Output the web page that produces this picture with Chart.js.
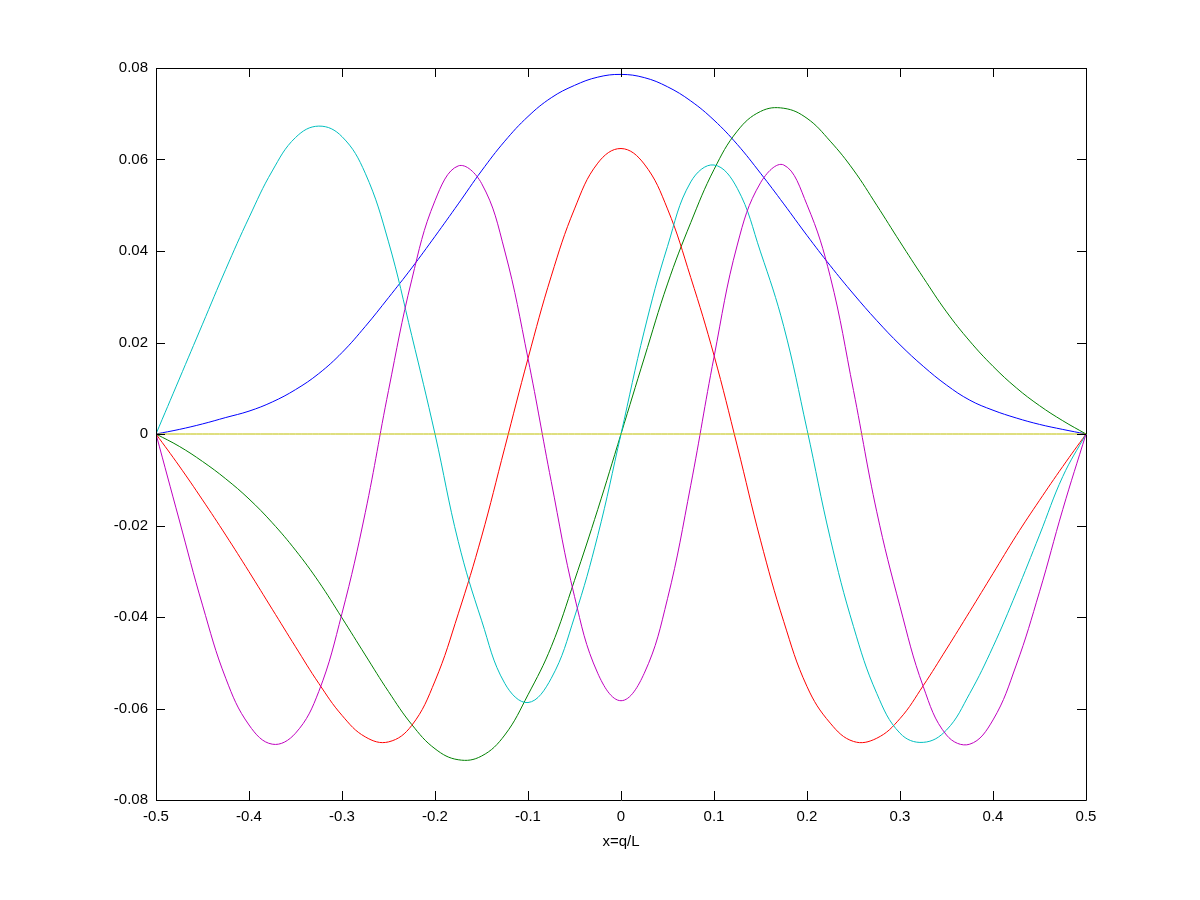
<!DOCTYPE html>
<html>
<head>
<meta charset="utf-8">
<script src="https://cdn.jsdelivr.net/npm/chart.js@4"></script>
<style>
  html, body { margin: 0; padding: 0; background: #ffffff; }
  #wrap { width: 1200px; height: 900px; }
</style>
</head>
<body>
<div id="wrap"><canvas id="plot" width="1200" height="900"></canvas></div>
<script>
// sample positions x = q/L
var xValues = [
  -0.5, -0.475, -0.45, -0.425, -0.4, -0.375, -0.35, -0.325, -0.3, -0.275,
  -0.25, -0.225, -0.2, -0.175, -0.15, -0.125, -0.1, -0.075, -0.05, -0.025,
  0, 0.025, 0.05, 0.075, 0.1, 0.125, 0.15, 0.175, 0.2, 0.225,
  0.25, 0.275, 0.3, 0.325, 0.35, 0.375, 0.4, 0.425, 0.45, 0.475, 0.5
];

var blueValues = [
  0, 0.0010, 0.0022, 0.0036, 0.0050, 0.0070, 0.0097, 0.0132, 0.0178, 0.0235,
  0.0298, 0.0363, 0.0432, 0.0503, 0.0575, 0.0640, 0.0694, 0.0735, 0.0762, 0.0780,
  0.0786, 0.0779, 0.0759, 0.0728, 0.0686, 0.0633, 0.0570, 0.0503, 0.0434, 0.0368,
  0.0306, 0.0248, 0.0195, 0.0148, 0.0107, 0.0074, 0.0052, 0.0035, 0.0021, 0.0010, 0
];

var greenValues = [
  0, -0.0027, -0.0060, -0.0098, -0.0142, -0.0194, -0.0254, -0.0323, -0.0402, -0.0483,
  -0.0563, -0.0635, -0.0688, -0.0712, -0.0704, -0.0658, -0.0570, -0.0465, -0.0320, -0.0165,
  0, 0.0166, 0.0328, 0.0462, 0.0578, 0.0662, 0.0705, 0.0712, 0.0690, 0.0640,
  0.0577, 0.0500, 0.0420, 0.0342, 0.0267, 0.0203, 0.0148, 0.0101, 0.0062, 0.0029, 0
];

var redValues = [
  0, -0.0070, -0.0144, -0.0221, -0.0301, -0.0383, -0.0465, -0.0545, -0.0615, -0.0662,
  -0.0673, -0.0637, -0.0540, -0.0393, -0.0225, -0.0030, 0.0165, 0.0345, 0.0492, 0.0592,
  0.0624, 0.0590, 0.0492, 0.0342, 0.0172, -0.0026, -0.0232, -0.0410, -0.0552, -0.0632,
  -0.0672, -0.0665, -0.0622, -0.0550, -0.0470, -0.0388, -0.0305, -0.0222, -0.0145, -0.0071, 0
];

var cyanValues = [
  0, 0.0120, 0.0240, 0.0360, 0.0473, 0.0575, 0.0648, 0.0673, 0.0650, 0.0570,
  0.0420, 0.0215, 0, -0.0235, -0.0407, -0.0545, -0.0587, -0.0534, -0.0400, -0.0222,
  0, 0.0225, 0.0410, 0.0551, 0.0588, 0.0537, 0.0398, 0.0235, 0.0010, -0.0228,
  -0.0421, -0.0567, -0.0654, -0.0674, -0.0647, -0.0567, -0.0465, -0.0347, -0.0221, -0.0093, 0
];

var magentaValues = [
  0, -0.0188, -0.0374, -0.0534, -0.0636, -0.0678, -0.0654, -0.0563, -0.0392, -0.0172,
  0.0095, 0.0337, 0.0510, 0.0586, 0.0548, 0.0400, 0.0165, -0.0104, -0.0355, -0.0523,
  -0.0583, -0.0523, -0.0360, -0.0112, 0.0168, 0.0413, 0.0549, 0.0588, 0.0501, 0.0344,
  0.0095, -0.0170, -0.0377, -0.0552, -0.0658, -0.0678, -0.0625, -0.0505, -0.0345, -0.0165, 0
];

var yellowValues = [
  0, 0, 0, 0, 0, 0, 0, 0, 0, 0,
  0, 0, 0, 0, 0, 0, 0, 0, 0, 0,
  0, 0, 0, 0, 0, 0, 0, 0, 0, 0,
  0, 0, 0, 0, 0, 0, 0, 0, 0, 0, 0
];

var xTicks = [-0.5, -0.4, -0.3, -0.2, -0.1, 0, 0.1, 0.2, 0.3, 0.4, 0.5];
var yTicks = [-0.08, -0.06, -0.04, -0.02, 0, 0.02, 0.04, 0.06, 0.08];
var xTitle = 'x=q/L';

function toPoints(ys) {
    return xValues.map(function (x, i) { return { x: x, y: ys[i] }; });
}

function lineSet(ys, colour, order) {
    return {
        data: toPoints(ys),
        borderColor: colour,
        borderWidth: 1,
        pointRadius: 0,
        fill: false,
        tension: 0.4,
        order: order
    };
}

function fmt(v) {
    return String(Number(v.toFixed(2)));
}

// box round the plot with inward ticks on all four sides
var boxTicks = {
    id: 'boxTicks',
    afterDraw: function (chart) {
        var ctx = chart.ctx;
        var a = chart.chartArea;
        var xs = chart.scales.x;
        var ys = chart.scales.y;
        var len = 9;
        ctx.save();
        ctx.strokeStyle = '#000000';
        ctx.lineWidth = 1;
        ctx.beginPath();
        ctx.rect(Math.round(a.left) + 0.5, Math.round(a.top) + 0.5,
                 Math.round(a.right - a.left), Math.round(a.bottom - a.top));
        xTicks.forEach(function (t) {
            var px = Math.round(xs.getPixelForValue(t)) + 0.5;
            ctx.moveTo(px, a.bottom);
            ctx.lineTo(px, a.bottom - len);
            ctx.moveTo(px, a.top);
            ctx.lineTo(px, a.top + len);
        });
        yTicks.forEach(function (t) {
            var py = Math.round(ys.getPixelForValue(t)) + 0.5;
            ctx.moveTo(a.left, py);
            ctx.lineTo(a.left + len, py);
            ctx.moveTo(a.right, py);
            ctx.lineTo(a.right - len, py);
        });
        ctx.stroke();
        ctx.restore();
    }
};

var ctx = document.getElementById('plot').getContext('2d');
var waveChart = new Chart(ctx, {
    type: 'line',
    data: {
        datasets: [
            lineSet(blueValues, '#0000ff', 6),
            lineSet(greenValues, '#008000', 5),
            lineSet(redValues, '#ff0000', 4),
            lineSet(cyanValues, '#00bfbf', 3),
            lineSet(magentaValues, '#bf00bf', 2),
            lineSet(yellowValues, '#bfbf00', 1)
        ]
    },
    options: {
        responsive: false,
        animation: false,
        layout: {
            padding: { left: 0, right: 114, top: 68, bottom: 49 }
        },
        plugins: {
            legend: { display: false },
            tooltip: { enabled: false }
        },
        scales: {
            x: {
                type: 'linear',
                min: -0.5,
                max: 0.5,
                afterFit: function (scale) { scale.height = 51; },
                afterBuildTicks: function (scale) {
                    scale.ticks = xTicks.map(function (v) { return { value: v }; });
                },
                grid: { display: false, drawTicks: false },
                border: { display: false },
                ticks: {
                    padding: 8,
                    color: '#000000',
                    maxRotation: 0,
                    autoSkip: false,
                    font: { family: 'Liberation Sans, Arial, sans-serif', size: 15 },
                    callback: function (v) { return fmt(v); }
                },
                title: {
                    display: true,
                    text: xTitle,
                    color: '#000000',
                    padding: { top: 0, bottom: 0 },
                    font: { family: 'Liberation Sans, Arial, sans-serif', size: 15 }
                }
            },
            y: {
                type: 'linear',
                min: -0.08,
                max: 0.08,
                afterFit: function (scale) { scale.width = 156; },
                afterBuildTicks: function (scale) {
                    scale.ticks = yTicks.map(function (v) { return { value: v }; });
                },
                grid: { display: false, drawTicks: false },
                border: { display: false },
                ticks: {
                    padding: 8,
                    color: '#000000',
                    autoSkip: false,
                    font: { family: 'Liberation Sans, Arial, sans-serif', size: 15 },
                    callback: function (v) { return fmt(v); }
                }
            }
        }
    },
    plugins: [boxTicks]
});
</script>
</body>
</html>
